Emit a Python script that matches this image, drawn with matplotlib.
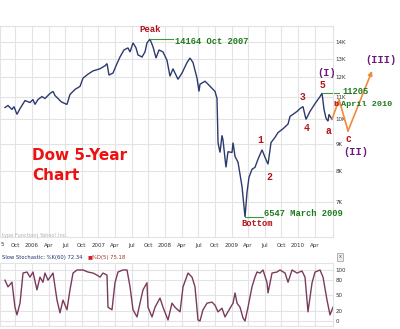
import matplotlib
matplotlib.use("Agg")
import matplotlib.pyplot as plt
import numpy as np

# ---- Dow weekly closes (decimal year, index level) ----
dow_years = [2005.594, 2005.639, 2005.699, 2005.729, 2005.774, 2005.820, 2005.895, 2005.970,
             2006.015, 2006.045, 2006.090, 2006.150, 2006.195, 2006.271, 2006.316, 2006.346,
             2006.391, 2006.436, 2006.496, 2006.526, 2006.571, 2006.647, 2006.722, 2006.767,
             2006.842, 2006.917, 2007.023, 2007.098, 2007.128, 2007.158, 2007.218, 2007.278,
             2007.323, 2007.383, 2007.444, 2007.474, 2007.519, 2007.564, 2007.594, 2007.654,
             2007.699, 2007.729, 2007.774, 2007.820, 2007.865, 2007.910, 2007.970, 2008.030,
             2008.075, 2008.120, 2008.195, 2008.256, 2008.331, 2008.376, 2008.421, 2008.481,
             2008.511, 2008.526, 2008.602, 2008.647, 2008.752, 2008.782, 2008.790, 2008.797,
             2008.827, 2008.857, 2008.872, 2008.917, 2008.947, 2009.008, 2009.023, 2009.053,
             2009.098, 2009.158, 2009.203, 2009.233, 2009.263, 2009.308, 2009.353, 2009.398,
             2009.459, 2009.504, 2009.549, 2009.594, 2009.654, 2009.699, 2009.774, 2009.850,
             2009.880, 2009.985, 2010.030, 2010.075, 2010.120, 2010.180, 2010.256, 2010.331,
             2010.361, 2010.391, 2010.421, 2010.451, 2010.466, 2010.511]
dow_close = [10530, 10620, 10440, 10570, 10220, 10480, 10850, 10760,
             10900, 10670, 10900, 11040, 10950, 11190, 11290, 11090,
             10950, 10800, 10710, 10670, 11140, 11390, 11540, 11960,
             12170, 12340, 12460, 12620, 12740, 12120, 12230, 12740,
             13110, 13520, 13640, 13400, 13940, 13640, 13230, 13110,
             13400, 13940, 14164, 13700, 13050, 13520, 13400, 12920,
             12060, 12460, 11900, 12230, 12800, 13050, 12800, 11960,
             11290, 11650, 11800, 11650, 11290, 10950, 9920, 9040,
             8660, 9330, 9140, 8120, 8690, 8660, 9040, 8510,
             8300, 7470, 6547, 7280, 7780, 8050, 8120, 8410,
             8760, 8480, 8230, 9040, 9250, 9440, 9600, 9800,
             10130, 10350, 10480, 10570, 10000, 10350, 10710, 11040,
             11205, 10440, 10050, 9920, 10220, 10000]

# ---- Slow stochastic ----
stoch_years = [2005.594, 2005.639, 2005.699, 2005.744, 2005.774, 2005.820, 2005.865, 2005.925,
               2005.970, 2006.015, 2006.075, 2006.120, 2006.165, 2006.195, 2006.241, 2006.316,
               2006.376, 2006.421, 2006.466, 2006.526, 2006.571, 2006.617, 2006.677, 2006.767,
               2006.842, 2006.917, 2006.977, 2007.023, 2007.068, 2007.128, 2007.143, 2007.203,
               2007.248, 2007.293, 2007.368, 2007.429, 2007.474, 2007.519, 2007.579, 2007.624,
               2007.669, 2007.729, 2007.744, 2007.805, 2007.850, 2007.925, 2007.970, 2008.045,
               2008.105, 2008.150, 2008.226, 2008.271, 2008.346, 2008.406, 2008.451, 2008.496,
               2008.526, 2008.571, 2008.632, 2008.707, 2008.752, 2008.797, 2008.857, 2008.902,
               2008.977, 2009.023, 2009.053, 2009.083, 2009.128, 2009.173, 2009.203, 2009.248,
               2009.308, 2009.353, 2009.383, 2009.429, 2009.474, 2009.534, 2009.549, 2009.609,
               2009.684, 2009.729, 2009.805, 2009.850, 2009.910, 2009.985, 2010.060, 2010.105,
               2010.150, 2010.211, 2010.256, 2010.331, 2010.376, 2010.436, 2010.481, 2010.526]
stoch_k = [80, 67, 76, 27, 12, 35, 94, 96,
           86, 96, 61, 86, 76, 94, 80, 94,
           41, 16, 41, 22, 61, 94, 100, 100,
           96, 94, 90, 86, 94, 90, 27, 22,
           75, 96, 100, 100, 67, 22, 8, 35,
           61, 75, 27, 8, 27, 45, 27, 2,
           35, 27, 18, 67, 94, 86, 67, 2,
           0, 22, 35, 37, 31, 18, 25, 8,
           25, 35, 55, 35, 27, 6, 0, 27,
           67, 86, 96, 94, 100, 75, 55, 94,
           96, 100, 94, 76, 100, 94, 98, 86,
           18, 75, 96, 100, 86, 41, 12, 27]

# ---- Axis ticks ----
quarter_pos = [2005.75, 2006.0, 2006.25, 2006.5, 2006.75, 2007.0, 2007.25, 2007.5, 2007.75,
               2008.0, 2008.25, 2008.5, 2008.75, 2009.0, 2009.25, 2009.5, 2009.75, 2010.0, 2010.25]
quarter_labels = ["Oct", "2006", "Apr", "Jul", "Oct", "2007", "Apr", "Jul", "Oct",
                  "2008", "Apr", "Jul", "Oct", "2009", "Apr", "Jul", "Oct", "2010", "Apr"]
price_ticks = [7000, 8000, 9000, 10000, 11000, 12000, 13000, 14000]
price_labels = ["7K", "8K", "9K", "10K", "11K", "12K", "13K", "14K"]
stoch_ticks = [0, 20, 50, 80, 100]

W, H = 400, 329
fig = plt.figure(figsize=(W / 100, H / 100), dpi=100)
fig.patch.set_facecolor("white")

def box(x0, y0, x1, y1):
    return [x0 / W, 1 - y1 / H, (x1 - x0) / W, (y1 - y0) / H]

def ftext(x, y, s, **kw):
    return fig.text(x / W, 1 - y / H, s, **kw)

x_lo, x_hi = 2005.519, 2010.526
grid_c = "#e3e3e3"
tick_font = ["Liberation Sans Narrow", "DejaVu Sans"]
tick_size = 4.0

# ---- Price panel ----
ax = fig.add_axes(box(0, 26, 333, 237))
ax.set_yscale("log")
ax.set_xlim(x_lo, x_hi)
ax.set_ylim(6000, 15000)
ax.set_yticks(price_ticks + [15000])
ax.set_yticklabels(price_labels + [""])
ax.yaxis.set_minor_locator(matplotlib.ticker.NullLocator())
ax.set_xticks(quarter_pos)
ax.set_xticklabels(quarter_labels)
ax.yaxis.tick_right()
ax.tick_params(axis="both", length=0, labelsize=tick_size, colors="#333333", pad=2)
ax.tick_params(axis="x", pad=4)
for lab in ax.get_xticklabels() + ax.get_yticklabels():
    lab.set_family(tick_font)
ax.grid(True, color=grid_c, lw=0.8)
for s in ax.spines.values():
    s.set_color(grid_c)
    s.set_linewidth(0.8)
ax.plot(dow_years, dow_close, color="#2d3a6e", lw=1.0, solid_joinstyle="miter")

dark_red = "#b3131b"
green = "#1d7a1d"
purple = "#6a1a7a"
orange = "#f08a3c"
mono = ["Liberation Mono", "DejaVu Sans Mono"]

# peak / bottom / April 2010 markers
i_peak = int(np.argmax(dow_close))
i_low = int(np.argmin(dow_close))
i_apr = dow_close.index(11205)
ax.plot([dow_years[i_peak], 2008.12], [dow_close[i_peak]] * 2, color="#3c9a3c", lw=0.8)
ax.plot([dow_years[i_low], 2009.474], [dow_close[i_low]] * 2, color="#3c9a3c", lw=0.8)
ax.plot([dow_years[i_apr], 2010.617], [dow_close[i_apr]] * 2, color="#3c9a3c", lw=0.8, clip_on=False)

# projected wave path
ax.annotate("", xy=(2010.617, 10900), xytext=(dow_years[-1], dow_close[-1]),
            arrowprops=dict(arrowstyle="-|>", color=orange, lw=1.2, mutation_scale=6,
                            shrinkA=0, shrinkB=0), annotation_clip=False)
ax.plot([2010.617, 2010.752], [10900, 9510], color=orange, lw=1.2, clip_on=False)
ax.annotate("", xy=(2011.113, 12340), xytext=(2010.752, 9510),
            arrowprops=dict(arrowstyle="-|>", color=orange, lw=1.2, mutation_scale=6,
                            shrinkA=0, shrinkB=0), annotation_clip=False)

ftext(150, 30, "Peak", color=dark_red, fontsize=6.5, fontweight="bold", family=mono, ha="center", va="center")
ftext(175, 41, "14164 Oct 2007", color=green, fontsize=6.3, fontweight="bold", family=mono, va="center")
ftext(257, 223, "Bottom", color=dark_red, fontsize=6.3, fontweight="bold", family=mono, ha="center", va="center")
ftext(264, 213, "6547 March 2009", color=green, fontsize=6.3, fontweight="bold", family=mono, va="center")
ftext(342, 92, "11205", color=green, fontsize=6.3, fontweight="bold", family=mono, va="center")
ftext(341, 104, "April 2010", color=green, fontsize=6.1, fontweight="bold", family=mono, va="center")

for s, x, y in [("1", 260, 140), ("2", 269, 177), ("3", 303, 97), ("4", 307, 128),
                ("5", 322, 85), ("a", 328, 131), ("c", 348, 139)]:
    ftext(x, y, s, color=dark_red, fontsize=7, fontweight="bold", family=mono, ha="center", va="center")
ftext(336, 104.5, "b", color=dark_red, fontsize=6.0, fontweight="bold", family=mono, ha="center", va="center")
for s, x, y in [("(I)", 327, 73), ("(II)", 356, 152), ("(III)", 381, 60)]:
    ftext(x, y, s, color=purple, fontsize=7.5, fontweight="bold", family=mono, ha="center", va="center")

ftext(32, 155, "Dow 5-Year", color="#ee1111", fontsize=11, fontweight="bold", family="DejaVu Sans", va="center")
ftext(32, 175, "Chart", color="#ee1111", fontsize=11, fontweight="bold", family="DejaVu Sans", va="center")

ftext(2, 235, "type Function| Yahoo! Inc.", color="#b0b0b0", fontsize=3.6, family=tick_font, va="center")
ftext(1, 245, "5", color="#333333", fontsize=tick_size, family=tick_font, va="center")

# ---- Stochastic panel ----
ax2 = fig.add_axes(box(0, 263, 333, 326))
ax2.set_xlim(x_lo, x_hi)
ax2.set_ylim(-9.8, 113.7)
ax2.set_xticks(quarter_pos)
ax2.set_xticklabels([])
ax2.set_yticks(stoch_ticks)
ax2.set_yticklabels([str(t) for t in stoch_ticks])
ax2.yaxis.tick_right()
ax2.tick_params(axis="both", length=0, labelsize=tick_size, colors="#333333", pad=2)
for lab in ax2.get_yticklabels():
    lab.set_family(tick_font)
ax2.grid(True, color=grid_c, lw=0.8)
for s in ax2.spines.values():
    s.set_color(grid_c)
    s.set_linewidth(0.8)
ax2.plot(stoch_years, stoch_k, color="#7a3a5e", lw=1.0)

# stochastic legend line: blue %K text, red square and %D text placed after it
title = ftext(2, 257, "Slow Stochastic: %K(60) 72.34", color="#1f2f6f", fontsize=3.8,
              family=tick_font, va="center")
renderer = fig.canvas.get_renderer()
x_end = title.get_window_extent(renderer).x1
ftext(x_end + 5, 257, "■", color="#d02020", fontsize=3.8, family="DejaVu Sans", va="center")
ftext(x_end + 9, 257, "%D(5) 75.18", color="#a03020", fontsize=3.8, family=tick_font, va="center")
ftext(340, 257, "x", color="#555555", fontsize=3.5, family="DejaVu Sans", ha="center", va="center",
      bbox=dict(boxstyle="square,pad=0.3", fc="#eeeeee", ec="#999999", lw=0.5))

fig.savefig("out.png", dpi=100, facecolor="white")
